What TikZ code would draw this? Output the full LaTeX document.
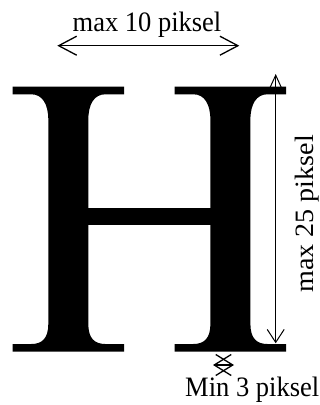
\documentclass[tikz,border=0pt]{standalone}
\usepackage{fontspec}
\setmainfont{Liberation Serif}
\usetikzlibrary{arrows.meta}
\tikzset{
  lbl/.style={inner sep=0pt, anchor=base, font=\fontsize{26.5}{30}\selectfont},
  dim/.style={line width=1.3pt},
  ink/.style={fill=black, draw=none},
  hstem/.pic={
    \fill[ink] (-55.7,86.7) -- (55.7,86.7) -- (55.7,94.3) -- (37,94.3)
      .. controls (26,94.3) and (20,104) .. (20,120) -- (20,324)
      .. controls (20,338) and (26,344) .. (37,344) -- (55.7,344)
      -- (55.7,351.7) -- (-55.7,351.7) -- (-55.7,344) -- (-37,344)
      .. controls (-26,344) and (-20,338) .. (-20,324) -- (-20,120)
      .. controls (-20,104) and (-26,94.3) .. (-37,94.3) -- (-55.7,94.3) -- cycle;
  },
}
\begin{document}
\begin{tikzpicture}[x=1pt,y=-1pt]
\useasboundingbox (0,0) rectangle (320,405);
% big letter H
\pic at (68.3,0) {hstem};
\pic at (230.4,0) {hstem};
\fill[ink] (87,208.3) rectangle (211.5,225);
% top dimension
\node[lbl] (t1) at (147,31.7) {\scalebox{1}[1.06]{max 10 piksel}};
\coordinate (a1) at (57.3,45.7);
\coordinate (a2) at (239.3,45.7);
\draw[dim,{Straight Barb[length=18pt,width=19pt]}-{Straight Barb[length=18pt,width=19pt]}] (a1) -- (a2);
% vertical dimension
\coordinate (v1) at (275.7,74);
\coordinate (v2) at (275.7,343.3);
\draw[line width=1pt,{Straight Barb[length=12pt,width=11pt]}-{Straight Barb[length=13pt,width=17pt]}] (v1) -- (v2);
\node[lbl, rotate=90] (t2) at (313,214) {\scalebox{1.06}[1]{max 25 piksel}};
% min dimension
\coordinate (m1) at (213,365);
\coordinate (m2) at (234,365);
\draw[dim,{Straight Barb[length=17pt,width=21pt]}-{Straight Barb[length=17pt,width=21pt]}] (m1) -- (m2);
\node[lbl] (t3) at (252.2,396.7) {\scalebox{1}[1.06]{Min 3 piksel}};
\end{tikzpicture}
\end{document}
